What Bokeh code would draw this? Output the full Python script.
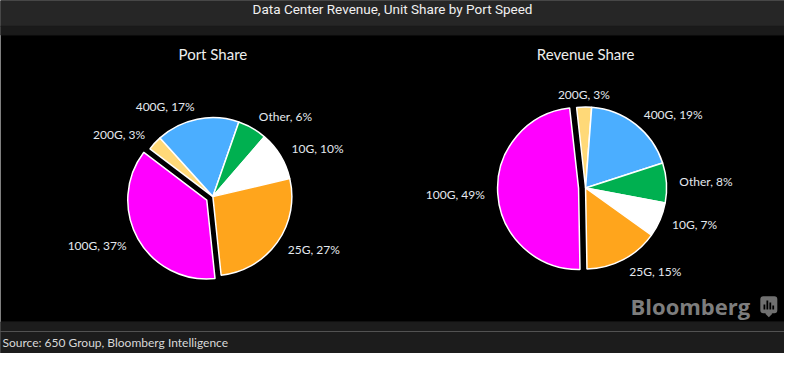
import math
from bokeh.plotting import figure
from bokeh.models import Range1d
from bokeh.core.properties import value
from bokeh.embed import file_html
from bokeh.resources import INLINE

# ---- data ----
speeds = ["100G", "200G", "400G", "Other", "10G", "25G"]
port_share = [37, 3, 17, 6, 10, 27]
revenue_share = [49, 3, 19, 8, 7, 15]
slice_colors = ["#FF00FF", "#FFD978", "#4BAEFF", "#00B050", "#FFFFFF", "#FFA51C"]
exploded = ["100G"]
pie_titles = ["Port Share", "Revenue Share"]
chart_title = "Data Center Revenue, Unit Share by Port Speed"
source_text = "Source: 650 Group, Bloomberg Intelligence"

# ---- layout (reference pixel space 800 x 369, y measured from top) ----
W, H = 784, 353
RW, RH = 800.0, 369.0
sx, sy = W / RW, H / RH


def Y(ry):
    return RH - ry


p = figure(width=W, height=H, x_range=Range1d(0, RW), y_range=Range1d(0, RH),
           output_backend="svg", toolbar_location=None, min_border=0)
p.axis.visible = False
p.grid.visible = False
p.outline_line_color = None
p.background_fill_color = "black"
p.border_fill_color = "black"

# header and footer bands
p.quad(left=0, right=RW, top=Y(0), bottom=Y(27), color="#262626")
p.quad(left=0, right=RW, top=Y(27), bottom=Y(36), color="#1a1a1a")
p.quad(left=0, right=RW, top=Y(336), bottom=Y(RH), color="#1c1c1c")
p.segment(x0=0, y0=Y(346), x1=RW, y1=Y(346), line_color="#8a8a8a",
          line_width=1, line_dash="1 1")

p.text(x=[400], y=[Y(9)], text=[chart_title], text_align="center",
       text_baseline="middle", text_color="#f0f0f0",
       text_font=value("Roboto"), text_font_size="13.5px")

p.text(x=[2], y=[Y(358)], text=[source_text], text_align="left",
       text_baseline="middle", text_color="#d8d8d8",
       text_font=value("Lato"), text_font_size="12px")

# Bloomberg logo
p.text(x=[765], y=[Y(319)], text=["Bloomberg"], text_align="right",
       text_baseline="middle", text_color="#7d7d7d",
       text_font=value("Open Sans"), text_font_size="22px", text_font_style="bold")
p.rect(x=[784], y=[Y(318)], width=17, height=17, width_units="screen",
       height_units="screen", fill_color="#707070", line_color=None,
       border_radius=3)
p.rect(x=[784], y=[Y(327.5)], width=5, height=5, angle=math.pi / 4,
       width_units="screen", height_units="screen", fill_color="#707070", line_color=None)
bar_h = [5, 9, 7, 4]
bar_x = [779.5, 782.5, 785.5, 788.5]
p.rect(x=bar_x, y=[Y(323) + h / 2 / sy for h in bar_h], width=1.8, height=bar_h,
       width_units="screen", height_units="screen", fill_color="black", line_color=None)


def draw_pie(cx, cy, r, vals, start_deg, title):
    total = float(sum(vals))
    theta = start_deg
    for name, v, col in zip(speeds, vals, slice_colors):
        span = v / total * 360.0
        t1, t2 = theta, theta + span
        mid = math.radians((t1 + t2) / 2)
        off = 7.0 if name in exploded else 0.0
        ccx = cx + off * math.sin(mid) / sx
        ccy = Y(cy) + off * math.cos(mid) / sy
        p.wedge(x=[ccx], y=[ccy], radius=r, radius_units="screen",
                start_angle=math.radians(90 - t2), end_angle=math.radians(90 - t1),
                fill_color=col, line_color="white", line_width=1.5)
        lr = r + 13 + off
        lx = cx + lr * math.sin(mid) / sx
        ly = Y(cy) + lr * math.cos(mid) / sy
        s = math.sin(mid)
        align = "center" if abs(s) < 0.15 else ("left" if s > 0 else "right")
        p.text(x=[lx], y=[ly], text=[f"{name}, {v}%"], text_align=align,
               text_baseline="middle", text_color="#e4e8ee",
               text_font=value("Lato"), text_font_size="12px")
        theta = t2
    p.text(x=[cx], y=[Y(56)], text=[title], text_align="center",
           text_baseline="middle", text_color="#eeeeee",
           text_font=value("Lato"), text_font_size="15px")


draw_pie(216.7, 205, 79, port_share, 174, pie_titles[0])
draw_pie(597, 196, 81, revenue_share, 179, pie_titles[1])

open("out.html", "w").write(file_html(p, INLINE))
